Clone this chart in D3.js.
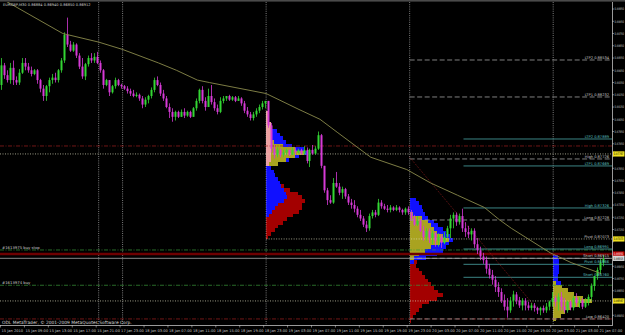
<!DOCTYPE html>
<html>
<head>
<meta charset="utf-8">
<script src="https://cdn.jsdelivr.net/npm/d3@7"></script>
<style>
  body { margin: 0; background: #000; }
  svg { display: block; }
  text { font-family: "DejaVu Sans", "Liberation Sans", sans-serif; }
</style>
</head>
<body>
<svg id="chart" width="625" height="335"></svg>
<script>
// ---- data (prices in pips, 8820 = 0.88200) ----
var symbolTitle = "EURGBP,M30  0.86884 0.86940 0.86850 0.86912";

// M30 bars: [open, high, low, close]
var bars = [
  [8833,8855,8829,8849],[8849,8851,8838,8841],[8841,8845,8835,8837],[8837,8851,8834,8847],
  [8847,8853,8833,8837],[8837,8840,8833,8835],[8835,8846,8833,8843],[8843,8855,8842,8851],
  [8851,8855,8845,8848],[8848,8851,8843,8845],[8845,8848,8840,8842],[8842,8846,8841,8845],
  [8845,8846,8834,8837],[8837,8838,8827,8830],[8830,8833,8820,8824],[8824,8833,8820,8832],
  [8832,8839,8827,8837],[8837,8842,8834,8839],[8839,8843,8835,8837],[8837,8846,8835,8845],
  [8845,8855,8843,8853],[8853,8876,8851,8874],[8874,8888,8864,8866],[8866,8869,8860,8861],
  [8861,8868,8860,8866],[8866,8867,8855,8857],[8857,8859,8846,8848],[8848,8855,8838,8840],
  [8840,8851,8837,8850],[8850,8857,8848,8855],[8855,8859,8851,8853],[8853,8859,8851,8856],
  [8856,8860,8850,8851],[8851,8853,8843,8845],[8845,8846,8830,8833],[8833,8838,8832,8837],
  [8837,8837,8824,8827],[8827,8833,8826,8832],[8832,8839,8830,8837],[8837,8838,8832,8833],
  [8833,8834,8830,8832],[8832,8833,8829,8830],[8830,8832,8826,8828],[8828,8830,8824,8826],
  [8826,8829,8823,8824],[8824,8827,8823,8825],[8825,8826,8820,8822],[8822,8824,8814,8817],
  [8817,8823,8815,8821],[8821,8825,8818,8824],[8824,8831,8822,8829],[8829,8839,8827,8837],
  [8837,8840,8832,8833],[8833,8835,8824,8826],[8826,8829,8820,8822],[8822,8824,8814,8815],
  [8815,8818,8806,8811],[8811,8814,8803,8807],[8807,8812,8804,8811],[8811,8812,8806,8807],
  [8807,8813,8807,8811],[8811,8814,8806,8808],[8808,8812,8807,8811],[8811,8812,8806,8807],
  [8807,8815,8807,8814],[8814,8822,8812,8820],[8820,8830,8818,8829],[8829,8832,8818,8820],
  [8820,8823,8812,8815],[8815,8830,8815,8824],[8824,8833,8817,8819],[8819,8822,8812,8814],
  [8814,8817,8809,8811],[8811,8823,8810,8820],[8820,8824,8818,8822],[8822,8824,8820,8824],
  [8824,8825,8820,8821],[8821,8824,8820,8823],[8823,8824,8819,8820],[8820,8824,8820,8822],
  [8822,8823,8816,8818],[8818,8820,8810,8812],[8812,8815,8807,8809],[8809,8811,8804,8806],
  [8806,8811,8804,8809],[8809,8814,8807,8812],[8812,8817,8810,8815],[8815,8820,8813,8818],
  [8818,8820,8814,8820],[8820,8820,8798,8800],[8800,8802,8778,8781],[8781,8784,8773,8776],
  [8776,8782,8774,8780],[8780,8781,8774,8776],[8776,8780,8774,8778],[8778,8781,8776,8780],
  [8780,8780,8775,8776],[8776,8782,8776,8780],[8780,8782,8776,8778],[8778,8781,8777,8780],
  [8780,8781,8776,8777],[8777,8783,8776,8780],[8780,8782,8769,8771],[8771,8781,8766,8780],
  [8780,8784,8776,8777],[8777,8783,8776,8781],[8781,8795,8780,8792],[8792,8793,8765,8767],
  [8767,8767,8745,8747],[8747,8749,8735,8739],[8739,8743,8736,8737],[8737,8757,8736,8753],
  [8753,8762,8749,8750],[8750,8753,8743,8745],[8745,8750,8740,8748],[8748,8749,8740,8742],
  [8742,8744,8735,8737],[8737,8740,8732,8735],[8735,8739,8729,8732],[8732,8734,8725,8727],
  [8727,8731,8722,8724],[8724,8726,8717,8719],[8719,8722,8713,8716],[8716,8728,8714,8726],
  [8726,8731,8724,8729],[8729,8731,8725,8727],[8727,8740,8726,8737],[8737,8739,8732,8734],
  [8734,8736,8731,8732],[8732,8735,8729,8731],[8731,8735,8729,8733],[8733,8734,8730,8731],
  [8731,8735,8730,8733],[8733,8734,8729,8731],[8731,8732,8727,8729],[8729,8733,8727,8732],
  [8732,8734,8727,8729],[8729,8731,8722,8724],[8724,8727,8718,8719],[8719,8726,8718,8722],
  [8722,8724,8713,8714],[8714,8718,8706,8709],[8709,8716,8706,8714],[8714,8716,8704,8708],
  [8708,8714,8703,8712],[8712,8713,8701,8706],[8706,8712,8701,8709],[8709,8711,8700,8704],
  [8704,8713,8703,8709],[8709,8718,8708,8716],[8716,8727,8708,8724],[8724,8729,8716,8727],
  [8727,8729,8718,8721],[8721,8728,8719,8726],[8726,8732,8713,8716],[8716,8721,8709,8713],
  [8713,8718,8708,8711],[8711,8716,8706,8714],[8714,8716,8700,8703],[8703,8708,8695,8698],
  [8698,8701,8690,8693],[8693,8696,8687,8690],[8690,8693,8679,8683],[8683,8687,8675,8678],
  [8678,8682,8670,8674],[8674,8677,8664,8668],[8668,8672,8660,8664],[8664,8667,8655,8657],
  [8657,8662,8649,8652],[8652,8659,8643,8649],[8649,8660,8647,8657],[8657,8665,8652,8662],
  [8662,8664,8654,8657],[8657,8660,8651,8653],[8653,8659,8649,8657],[8657,8659,8649,8653],
  [8653,8656,8649,8651],[8651,8655,8649,8653],[8653,8655,8648,8651],[8651,8652,8646,8649],
  [8649,8652,8645,8651],[8651,8653,8647,8649],[8649,8655,8647,8652],[8652,8657,8649,8656],
  [8656,8664,8652,8659],[8659,8661,8652,8656],[8656,8663,8649,8660],[8660,8664,8649,8652],
  [8652,8659,8647,8649],[8649,8657,8647,8656],[8656,8657,8649,8651],[8651,8661,8649,8659],
  [8659,8663,8652,8655],[8655,8660,8651,8657],[8657,8659,8650,8652],[8652,8659,8651,8656],
  [8656,8662,8653,8660],[8660,8671,8657,8669],[8669,8677,8665,8677],[8677,8684,8674,8682],
  [8682,8691,8679,8688],[8688,8694,8685,8691]
];

// moving average: [bar index, price]
var maLine = [[0,8904],[3,8900],[21,8875],[33,8868],[41,8862],[53,8851],[59,8845],[66,8837],
  [70,8835],[89,8826],[100,8813],[107,8805],[113,8794],[124,8774],[136,8764],[144,8753],
  [153,8743],[162,8733],[167,8723],[171,8716],[184,8696],[191,8688],[200,8680],[201,8679]];

var trendLine = [[137,8774],[180,8649]];

var priceTicks = [8895,8885,8875,8865,8855,8845,8835,8825,8815,8805,8795,8785,8775,
  8765,8755,8745,8735,8725,8715,8705,8695,8685,8675,8665,8655,8645];

var timeBars = [0,8,16,24,32,40,48,56,64,72,80,88,96,104,112,120,128,136,144,152,160,168,176,184,192,200];
var timeLabels = ["15 Jan 2010","15 Jan 09:00","15 Jan 13:00","15 Jan 17:00","15 Jan 21:00",
  "17 Jan 23:00","18 Jan 03:00","18 Jan 07:00","18 Jan 11:00","18 Jan 15:00","18 Jan 19:00",
  "18 Jan 23:00","19 Jan 03:00","19 Jan 07:00","19 Jan 11:00","19 Jan 15:00","19 Jan 19:00",
  "19 Jan 23:00","20 Jan 03:00","20 Jan 07:00","20 Jan 11:00","20 Jan 15:00","20 Jan 19:00",
  "20 Jan 23:00","21 Jan 03:00","21 Jan 07:00"];

var daySeparators = [33,41,89,137,185];

// yesterday's levels (grey dashed) and today's levels (teal)
var oldLevelNames = ["LTP2","LTP1","High","Long","Short","Low"];
var oldLevelPrices = [8853.4,8823.2,8772.6,8722.8,8691.5,8642.0];
var newLevelNames = ["LTP2","LTP1","High","Long","Pivot","Short"];
var newLevelPrices = [8788.9,8766.9,8732.6,8699.1,8686.6,8676.0];

var dottedPrices = [8776.7,8707.3,8656.7];
var dottedStart = [0,89,0];
var redDashPrices = [8783.2,8642.0];
var orderPrices = [8698.3,8669.5];
var orderLabels = ["#1613975 buy stop","#1613974 buy"];
var stopPrice = 8695.0;
var bidPrice = 8691.5;

// market profiles: start bar, top price, 3-pip rows of TPO counts per session colour
var profStart = [89,137,185];
var profTop = [8812,8741,8694];
var p1Pink   = [2,2,2,3,3,3,3,3,3,3,3,3,3,3,2,0,0,0,0,0,0,0,0,0,0,0,0,0,0,0,0,0,0,0,0];
var p1Yellow = [0,0,0,0,0,0,0,0,2,8,16,22,16,10,6,0,0,0,0,0,0,0,0,0,0,0,0,0,0,0,0,0,0,0,0];
var p1Blue   = [0,0,0,0,0,4,6,8,8,6,6,3,3,2,0,3,5,6,8,9,10,12,13,14,12,8,6,4,2,0,0,0,0,0,0];
var p1Red    = [0,0,0,0,0,0,0,0,0,0,0,0,0,0,0,0,0,0,0,0,2,4,8,10,14,16,18,18,16,14,11,8,6,3,1];
var p2Pink   = [0,0,0,0,0,0,0,0,0,0,0,0,0,0,0,0,0,0,0,0,0,0,0,0,0,0,0,0,0,0,0,0,0,0];
var p2Yellow = [0,0,0,0,2,8,12,14,16,18,22,26,20,14,10,6,3,0,0,0,0,0,0,0,0,0,0,0,0,0,0,0,0,0];
var p2Blue   = [4,6,8,9,8,4,4,5,6,6,5,3,6,10,12,12,8,3,0,0,0,0,0,0,0,0,0,0,0,0,0,0,0,0];
var p2Red    = [0,0,0,0,0,0,0,0,0,0,0,0,0,0,0,0,0,2,4,6,8,10,12,14,16,19,22,18,13,8,6,4,2,1];
var p3Pink   = [0,0,0,0,0,0,0,0,0,0,0,0,0,0,0,0,0,0];
var p3Yellow = [0,0,0,0,0,0,0,2,6,10,14,20,26,18,12,8,5,2];
var p3Blue   = [3,4,4,4,4,3,3,3,0,0,0,0,0,0,0,0,0,0];
var p3Red    = [0,0,0,0,0,0,0,0,0,0,0,0,0,0,0,0,0,0];

// ---- scales ----
var plotRight = 612, plotTop = 2, plotBottom = 325;
var x = d3.scaleLinear().domain([0, 205]).range([0, 613]);
var y = d3.scaleLinear().domain([8640, 8900]).range([321.4, 2.9]);
var tpo = d3.scaleLinear().domain([0, 1]).range([0, 1.5]);
var fmt = function (p) { return (p / 10000).toFixed(5); };

var svg = d3.select("#chart");
svg.append("rect").attr("width", 625).attr("height", 335).attr("fill", "#000");
svg.append("rect").attr("width", 625).attr("height", 1.6).attr("fill", "#4a4a4a");

svg.append("clipPath").attr("id", "plot")
  .append("rect").attr("x", 0).attr("y", plotTop).attr("width", plotRight).attr("height", plotBottom - plotTop);
var g = svg.append("g").attr("clip-path", "url(#plot)");

// market profiles (background)
var profColors = ["#eda0a0", "#a9a320", "#1010ff", "#a30000"];
var profData = [[p1Pink, p1Yellow, p1Blue, p1Red], [p2Pink, p2Yellow, p2Blue, p2Red], [p3Pink, p3Yellow, p3Blue, p3Red]];
profData.forEach(function (layers, pi) {
  var x0 = x(profStart[pi]);
  var gp = g.append("g").attr("shape-rendering", "crispEdges");
  layers[0].forEach(function (_, k) {
    var top = profTop[pi] - 3 * k;
    var acc = 0;
    layers.forEach(function (arr, c) {
      if (arr[k] > 0) {
        gp.append("rect")
          .attr("x", x0 + tpo(acc)).attr("y", y(top))
          .attr("width", tpo(arr[k])).attr("height", y(top - 3) - y(top))
          .attr("fill", profColors[c]);
      }
      acc += arr[k];
    });
  });
});

// day separators
g.selectAll(".sep").data(daySeparators).enter().append("line")
  .attr("x1", function (d) { return x(d); }).attr("x2", function (d) { return x(d); })
  .attr("y1", plotTop).attr("y2", plotBottom)
  .attr("stroke", "#d0d0d0").attr("stroke-width", 0.6).attr("stroke-dasharray", "1,1.2");

// full-width horizontal lines
g.selectAll(".reddash").data(redDashPrices).enter().append("line")
  .attr("x1", 0).attr("x2", plotRight)
  .attr("y1", function (d) { return y(d); }).attr("y2", function (d) { return y(d); })
  .attr("stroke", "#a02020").attr("stroke-width", 0.7).attr("stroke-dasharray", "4,1.5,1,1.5");

g.selectAll(".dotted").data(dottedPrices).enter().append("line")
  .attr("x1", function (d, i) { return x(dottedStart[i]); }).attr("x2", plotRight)
  .attr("y1", function (d) { return y(d); }).attr("y2", function (d) { return y(d); })
  .attr("stroke", "#e0e0c0").attr("stroke-width", 0.7).attr("stroke-dasharray", "1,1.5");

g.selectAll(".order").data(orderPrices).enter().append("line")
  .attr("x1", 0).attr("x2", plotRight)
  .attr("y1", function (d) { return y(d); }).attr("y2", function (d) { return y(d); })
  .attr("stroke", "#3a9a3a").attr("stroke-width", 0.7).attr("stroke-dasharray", "4,1.5,1,1.5");

g.append("line").attr("x1", 0).attr("x2", plotRight)
  .attr("y1", y(stopPrice)).attr("y2", y(stopPrice))
  .attr("stroke", "#6e0000").attr("stroke-width", 2.6);

g.append("line").attr("x1", 0).attr("x2", plotRight)
  .attr("y1", y(bidPrice)).attr("y2", y(bidPrice))
  .attr("stroke", "#a8a8a8").attr("stroke-width", 0.8);

// level lines
g.selectAll(".old").data(oldLevelPrices).enter().append("line")
  .attr("x1", x(137)).attr("x2", plotRight)
  .attr("y1", function (d) { return y(d); }).attr("y2", function (d) { return y(d); })
  .attr("stroke", "#a0a0a0").attr("stroke-width", 0.8).attr("stroke-dasharray", "5,2.5");

g.selectAll(".new").data(newLevelPrices).enter().append("line")
  .attr("x1", x(155)).attr("x2", plotRight)
  .attr("y1", function (d) { return y(d); }).attr("y2", function (d) { return y(d); })
  .attr("stroke", "#4aa6a6").attr("stroke-width", 0.8);

// trend line
g.append("line")
  .attr("x1", x(trendLine[0][0])).attr("y1", y(trendLine[0][1]))
  .attr("x2", x(trendLine[1][0])).attr("y2", y(trendLine[1][1]))
  .attr("stroke", "#a02020").attr("stroke-width", 0.7).attr("stroke-dasharray", "1,1.2");

// candles
var gc = g.append("g");
bars.forEach(function (b, i) {
  var cx = Math.round(x(i + 0.5)) + 0.5;
  var up = b[3] >= b[0];
  var col = up ? "#33d633" : "#d63ad6";
  gc.append("line").attr("x1", cx).attr("x2", cx)
    .attr("y1", y(b[1])).attr("y2", y(b[2]))
    .attr("stroke", col).attr("stroke-width", 0.8);
  var yt = y(Math.max(b[0], b[3])), yb = y(Math.min(b[0], b[3]));
  gc.append("rect").attr("x", cx - 1).attr("width", 2)
    .attr("y", yt).attr("height", Math.max(0.8, yb - yt))
    .attr("fill", col);
});

// moving average
g.append("path").datum(maLine)
  .attr("d", d3.line().x(function (d) { return x(d[0]); }).y(function (d) { return y(d[1]); }))
  .attr("fill", "none").attr("stroke", "#8a8a4c").attr("stroke-width", 0.9);

// level labels
var lab = svg.append("g").attr("font-size", 3.6).attr("text-anchor", "end");
oldLevelPrices.forEach(function (p, i) {
  lab.append("text").attr("x", 609).attr("y", y(p) - 1)
    .attr("fill", "#c8c8c8").text(oldLevelNames[i] + "    " + fmt(p));
});
newLevelPrices.forEach(function (p, i) {
  lab.append("text").attr("x", 609).attr("y", y(p) - 1)
    .attr("fill", "#5cc0c0").text(newLevelNames[i] + "    " + fmt(p));
});
lab.append("text").attr("x", 609).attr("y", y(dottedPrices[1]) - 1)
  .attr("fill", "#c8c8c8").text("Pivot    " + fmt(dottedPrices[1]));

orderPrices.forEach(function (p, i) {
  svg.append("text").attr("x", 2).attr("y", y(p) - 1).attr("font-size", 3.8)
    .attr("fill", "#c8c8c8").text(orderLabels[i]);
});

// title and copyright
svg.append("text").attr("x", 3).attr("y", 6).attr("font-size", 3.6)
  .attr("fill", "#d0d0d0").text(symbolTitle);
svg.append("text").attr("x", 2).attr("y", 323.5).attr("font-size", 4.4)
  .attr("fill", "#d8d8d8").text("ODL MetaTrader, \u00a9 2001-2009 MetaQuotes Software Corp.");

// price axis
svg.append("line").attr("x1", plotRight + 0.5).attr("x2", plotRight + 0.5)
  .attr("y1", plotTop).attr("y2", plotBottom).attr("stroke", "#c0c0c0").attr("stroke-width", 0.8);
var ax = svg.append("g");
var boxPrices = [dottedPrices[0], dottedPrices[1], stopPrice, bidPrice, dottedPrices[2]];
var boxFill = ["#f0e020", "#f0e020", "#c00000", "#d8d8d8", "#f0e020"];
var boxText = ["#000", "#000", "#fff", "#000", "#000"];
function axisLabel(px, py, txt, col) {
  // narrow the digits horizontally so the label fits the 12px axis strip
  ax.append("text")
    .attr("transform", "translate(" + px + "," + py + ") scale(0.68,1)")
    .attr("font-size", 3.4).attr("fill", col).text(txt);
}
priceTicks.forEach(function (p) {
  ax.append("line").attr("x1", plotRight).attr("x2", plotRight + 2)
    .attr("y1", y(p)).attr("y2", y(p)).attr("stroke", "#c0c0c0").attr("stroke-width", 0.6);
  var hidden = boxPrices.some(function (b) { return Math.abs(y(b) - y(p)) < 5.5; });
  if (!hidden) axisLabel(plotRight + 2.5, y(p) + 1.3, fmt(p), "#c8c8c8");
});
boxPrices.forEach(function (p, i) {
  ax.append("rect").attr("x", plotRight + 1).attr("y", y(p) - 2.6)
    .attr("width", 11.5).attr("height", 5.2).attr("fill", boxFill[i]);
  axisLabel(plotRight + 1.8, y(p) + 1.3, fmt(p), boxText[i]);
});

// time axis
svg.append("line").attr("x1", 0).attr("x2", plotRight + 1)
  .attr("y1", plotBottom + 0.5).attr("y2", plotBottom + 0.5).attr("stroke", "#c0c0c0").attr("stroke-width", 0.8);
timeBars.forEach(function (b, i) {
  svg.append("line").attr("x1", x(b) + 0.5).attr("x2", x(b) + 0.5)
    .attr("y1", plotBottom).attr("y2", plotBottom + 2.5).attr("stroke", "#c0c0c0").attr("stroke-width", 0.6);
  svg.append("text").attr("x", x(b) + 1.5).attr("y", 331.5).attr("font-size", 3.6)
    .attr("fill", "#c8c8c8").text(timeLabels[i]);
});
</script>
</body>
</html>
